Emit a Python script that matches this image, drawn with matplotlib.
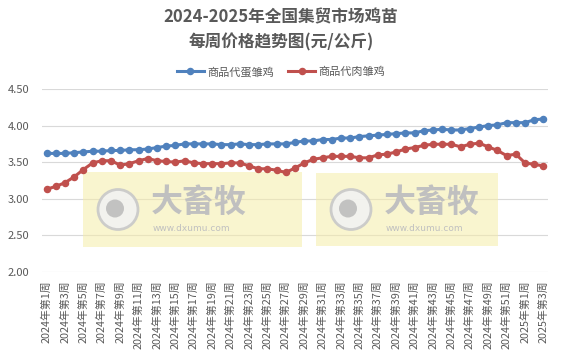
import matplotlib
matplotlib.use("Agg")
import matplotlib.pyplot as plt
from matplotlib.patches import Rectangle, Ellipse

plt.rcParams["font.family"] = ["Noto Sans CJK SC", "DejaVu Sans"]

# categories: 2024 weeks 1-52, 2025 weeks 1-3
weeks = [f"2024年第{w}周" for w in range(1, 53)] + [f"2025年第{w}周" for w in range(1, 4)]

egg_chick = [3.62, 3.62, 3.62, 3.63, 3.64, 3.65, 3.65, 3.66, 3.66, 3.67,
             3.67, 3.68, 3.70, 3.72, 3.73, 3.75, 3.75, 3.75, 3.75, 3.74,
             3.74, 3.75, 3.74, 3.74, 3.75, 3.75, 3.75, 3.77, 3.79, 3.79,
             3.81, 3.81, 3.83, 3.83, 3.85, 3.86, 3.87, 3.88, 3.89, 3.90,
             3.90, 3.93, 3.94, 3.95, 3.94, 3.94, 3.96, 3.98, 4.00, 4.01,
             4.04, 4.04, 4.04, 4.08, 4.09]
meat_chick = [3.13, 3.17, 3.22, 3.30, 3.40, 3.49, 3.52, 3.52, 3.46, 3.48,
              3.52, 3.55, 3.52, 3.51, 3.50, 3.52, 3.49, 3.48, 3.48, 3.48,
              3.49, 3.49, 3.45, 3.41, 3.41, 3.39, 3.36, 3.42, 3.49, 3.54,
              3.56, 3.58, 3.58, 3.58, 3.56, 3.56, 3.60, 3.61, 3.64, 3.68,
              3.70, 3.73, 3.745, 3.745, 3.745, 3.71, 3.745, 3.76, 3.71, 3.66,
              3.59, 3.61, 3.49, 3.47, 3.45]

yticks = [2.00, 2.50, 3.00, 3.50, 4.00, 4.50]

W, H = 562, 362
fig = plt.figure(figsize=(W / 100, H / 100), dpi=100)
ax = fig.add_axes([42 / W, 1 - 272 / H, 506 / W, 183 / H])

x = range(len(weeks))
ax.plot(x, egg_chick, color="#4F81BD", lw=2.2, marker="o", ms=4.4, label="商品代蛋雏鸡", zorder=3)
ax.plot(x, meat_chick, color="#C0504D", lw=2.2, marker="o", ms=4.4, label="商品代肉雏鸡", zorder=3)

ax.set_xlim(-0.5, len(weeks) - 0.5)
ax.set_ylim(2.0, 4.5)
ax.set_yticks(yticks)
ax.set_yticklabels([f"{v:.2f}" for v in yticks], fontsize=8, color="#595959")
ax.set_xticks(list(x)[::2])
ax.set_xticklabels(weeks[::2], rotation=90, fontsize=7.8, color="#595959")
ax.tick_params(axis="x", length=0, pad=6)
ax.tick_params(axis="y", length=0, pad=9)
ax.grid(axis="y", color="#D9D9D9", lw=0.8)
ax.set_axisbelow(True)
for s in ax.spines.values():
    s.set_visible(False)


# watermarks (pixel boxes of the reference), behind the lines
def pix(px, py):
    return px / W, 1 - py / H


def watermark(x0, x1, y0, y1):
    tf = fig.transFigure
    fx, fy = pix(x0, y1)
    ax.add_patch(Rectangle((fx, fy), (x1 - x0) / W, (y1 - y0) / H, transform=tf, clip_on=False,
                           facecolor="#F5EDA8", alpha=0.55, edgecolor="none", zorder=2))
    cx, cy = pix(x0 + 35, (y0 + y1) / 2)
    ax.add_patch(Ellipse((cx, cy), 40 / W, 40 / H, transform=tf, clip_on=False, facecolor="#F2F2F2",
                         edgecolor="#C8C8C8", lw=2, alpha=0.9, zorder=2))
    ix, iy = pix(x0 + 32, (y0 + y1) / 2 - 1)
    ax.add_patch(Ellipse((ix, iy), 18 / W, 18 / H, transform=tf, clip_on=False, facecolor="#BDBDBD",
                         edgecolor="none", alpha=0.9, zorder=2))
    tx, ty = pix(x0 + 68, (y0 + y1) / 2 - 7)
    ax.text(tx, ty, "大畜牧", transform=tf, fontsize=23, fontweight="bold", color="#C0C0C0",
            va="center", ha="left", zorder=2)
    tx, ty = pix(x0 + 70, (y0 + y1) / 2 + 19)
    ax.text(tx, ty, "www.dxumu.com", transform=tf, fontsize=6.5, color="#C0C0C0", va="center",
            ha="left", family="DejaVu Sans", zorder=2)


watermark(83, 302, 172, 247)
watermark(316, 498, 173, 246)

fig.text(0.5, 1 - 17 / H, "2024-2025年全国集贸市场鸡苗", ha="center", va="center",
         fontsize=12, fontweight="bold", color="#595959")
fig.text(0.5, 1 - 42 / H, "每周价格趋势图(元/公斤)", ha="center", va="center",
         fontsize=12, fontweight="bold", color="#595959")

fig.legend(loc="center", bbox_to_anchor=(0.5, 1 - 72 / H), ncol=2, frameon=False,
           fontsize=8, labelcolor="#595959", handlelength=2.4, columnspacing=1.3, handletextpad=0.3)

fig.savefig("out.png", dpi=100)
